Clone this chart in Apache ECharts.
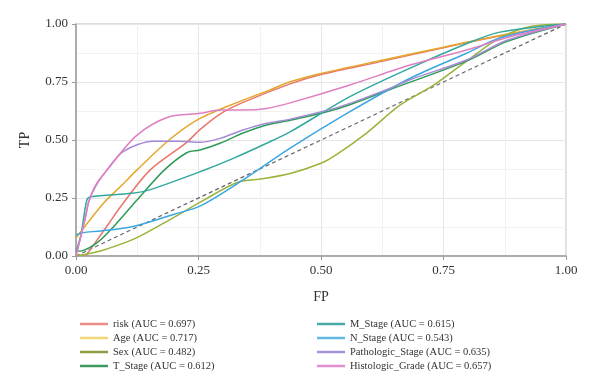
<!DOCTYPE html>
<html>
<head>
<meta charset="utf-8">
<script src="https://cdn.jsdelivr.net/npm/echarts@6/dist/echarts.min.js"></script>
<style>html,body{margin:0;padding:0;background:#fff;}#c{width:600px;height:388px;}</style>
</head>
<body>
<div id="c"></div>
<script>
var seriesNames = ["risk (AUC = 0.697)", "Age (AUC = 0.717)", "Sex (AUC = 0.482)", "T_Stage (AUC = 0.612)",
  "M_Stage (AUC = 0.615)", "N_Stage (AUC = 0.543)", "Pathologic_Stage (AUC = 0.635)", "Histologic_Grade (AUC = 0.657)"];
var tickValues = [0, 0.25, 0.5, 0.75, 1];

var riskPts = [[0.02,0],[0.04,0.06],[0.067,0.14],[0.09,0.21],[0.151,0.37],[0.226,0.49],[0.253,0.545],[0.294,0.612],[0.341,0.662],[0.437,0.742],[0.5,0.782],[0.627,0.84],[0.75,0.898],[0.865,0.948],[1,1]];
var agePts = [[0,0.077],[0.056,0.227],[0.094,0.306],[0.124,0.37],[0.19,0.50],[0.253,0.593],[0.341,0.672],[0.396,0.716],[0.437,0.751],[0.5,0.787],[0.627,0.845],[0.75,0.90],[0.865,0.95],[1,1]];
var sexPts = [[0,0],[0.033,0.013],[0.06,0.028],[0.12,0.075],[0.19,0.155],[0.26,0.24],[0.33,0.318],[0.38,0.333],[0.437,0.356],[0.5,0.40],[0.53,0.435],[0.593,0.53],[0.661,0.65],[0.729,0.735],[0.797,0.84],[0.865,0.94],[0.93,0.99],[1,1]];
var tStagePts = [[0,0.02],[0.012,0.022],[0.046,0.062],[0.08,0.134],[0.124,0.24],[0.18,0.37],[0.226,0.445],[0.253,0.457],[0.294,0.486],[0.341,0.53],[0.389,0.565],[0.437,0.585],[0.539,0.638],[0.641,0.718],[0.797,0.84],[0.88,0.925],[1,1]];
var mStagePts = [[0,0.02],[0.01,0.09],[0.022,0.24],[0.03,0.255],[0.114,0.27],[0.15,0.285],[0.253,0.363],[0.321,0.421],[0.389,0.486],[0.437,0.535],[0.559,0.687],[0.682,0.81],[0.797,0.915],[0.865,0.965],[1,1]];
var nStagePts = [[0,0.09],[0.012,0.1],[0.05,0.108],[0.114,0.126],[0.2,0.18],[0.253,0.215],[0.341,0.328],[0.437,0.465],[0.559,0.622],[0.682,0.766],[0.797,0.874],[0.865,0.94],[1,1]];
var pathoPts = [[0,0],[0.019,0.164],[0.026,0.234],[0.04,0.30],[0.063,0.37],[0.096,0.45],[0.158,0.495],[0.212,0.495],[0.253,0.49],[0.294,0.507],[0.341,0.543],[0.389,0.572],[0.437,0.59],[0.539,0.644],[0.641,0.723],[0.682,0.76],[0.797,0.845],[0.88,0.93],[1,1]];
var histoPts = [[0,0],[0.019,0.164],[0.026,0.234],[0.04,0.306],[0.063,0.37],[0.124,0.52],[0.19,0.60],[0.253,0.615],[0.294,0.629],[0.341,0.629],[0.389,0.636],[0.437,0.66],[0.559,0.737],[0.682,0.823],[0.797,0.888],[0.886,0.945],[1,1]];
var diagPts = [[0,0],[1,1]];

var allPts = [riskPts, agePts, sexPts, tStagePts, mStagePts, nStagePts, pathoPts, histoPts];
var lineColors = ["#E8766C", "#E3A62A", "#98B43A", "#2E9A58", "#33A89E", "#3AA6E2", "#A58AD6", "#E07FC2"];
var legendColors = ["#EE8C88", "#F2D67A", "#8E9C44", "#3C9A60", "#48AAA4", "#62B8E2", "#A592D8", "#E28FD0"];

var FONT = "'Liberation Serif', 'DejaVu Serif', serif";

var series = allPts.map(function (pts, i) {
  return {
    name: seriesNames[i], type: 'line', data: pts, smooth: 0.3,
    symbol: 'none', lineStyle: { color: lineColors[i], width: 1.5 }, itemStyle: { color: lineColors[i] },
    z: 3
  };
});
series.push({
  name: 'diag', type: 'line', data: diagPts, symbol: 'none', silent: true,
  lineStyle: { color: '#666', width: 1.2, type: [4, 3] }, z: 2
});

function legendData(idx) {
  return idx.map(function (i) { return { name: seriesNames[i], itemStyle: { color: legendColors[i] } }; });
}
var legendCommon = {
  orient: 'vertical', icon: 'rect', itemWidth: 28, itemHeight: 2.5, itemGap: 0,
  textStyle: { fontFamily: FONT, fontSize: 10.5, color: '#333', lineHeight: 14 }
};

var axisCommon = {
  type: 'value', min: 0, max: 1, interval: 0.25,
  axisLine: { show: true, lineStyle: { color: '#9a9a9a', width: 1.5 } },
  axisTick: { show: true, length: 4, lineStyle: { color: '#9a9a9a' } },
  minorTick: { show: true, splitNumber: 2, length: 0 },
  splitLine: { show: true, lineStyle: { color: '#e6e6e6', width: 1 } },
  minorSplitLine: { show: true, lineStyle: { color: '#f2f2f2', width: 1 } },
  axisLabel: { fontFamily: FONT, fontSize: 13, color: '#333',
    formatter: function (v) { return tickValues.indexOf(v) >= 0 ? v.toFixed(2) : ''; } },
  nameLocation: 'middle',
  nameTextStyle: { fontFamily: FONT, fontSize: 14, color: '#333' }
};

var chart = echarts.init(document.getElementById('c'));
chart.setOption({
  animation: false,
  backgroundColor: '#fff',
  grid: { left: 76, right: 34, top: 24, bottom: 132, show: true, borderColor: '#bdbdbd', borderWidth: 1 },
  xAxis: Object.assign({}, axisCommon, { name: 'FP', nameGap: 34,
    axisLabel: Object.assign({}, axisCommon.axisLabel, { margin: 8 }) }),
  yAxis: Object.assign({}, axisCommon, { name: 'TP', nameGap: 44,
    axisLabel: Object.assign({}, axisCommon.axisLabel, { margin: 8 }) }),
  legend: [
    Object.assign({}, legendCommon, { left: 75, top: 312, data: legendData([0, 1, 2, 3]) }),
    Object.assign({}, legendCommon, { left: 312, top: 312, data: legendData([4, 5, 6, 7]) })
  ],
  series: series
});
</script>
</body>
</html>
